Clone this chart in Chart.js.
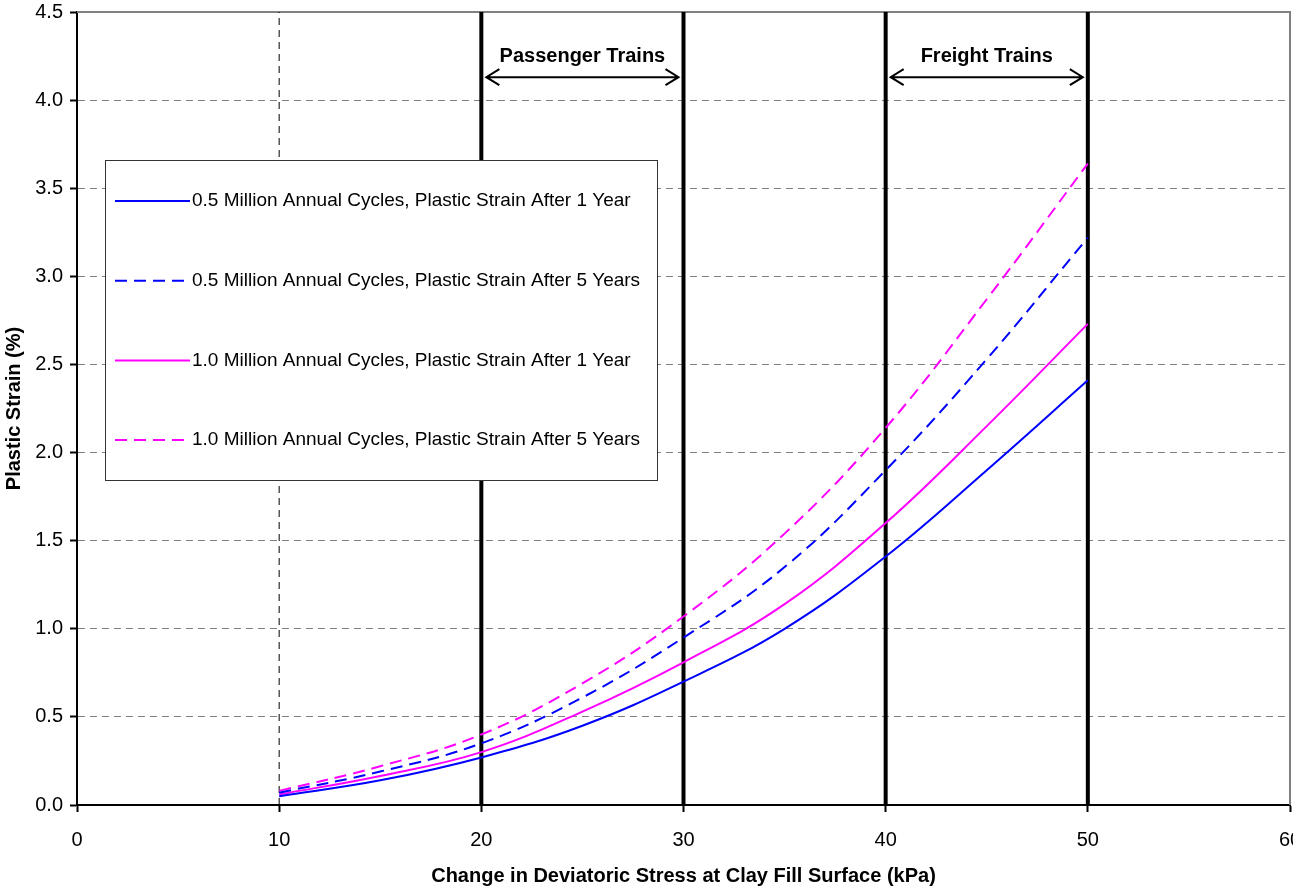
<!DOCTYPE html>
<html>
<head>
<meta charset="utf-8">
<script src="https://cdn.jsdelivr.net/npm/chart.js@4/dist/chart.umd.min.js"></script>
<style>
  html, body { margin: 0; padding: 0; background: #fff; overflow: hidden; }
  #wrap { width: 1320px; height: 888px; }
</style>
</head>
<body>
<div id="wrap"><canvas id="strainChart"></canvas></div>
<script>
// deviatoric stress (kPa) and plastic strain (%)
var stressKPa = [10, 15, 20, 25, 30, 35, 40, 45, 50];
var strainHalfM1yr = [0.05, 0.14, 0.27, 0.45, 0.70, 1.00, 1.41, 1.90, 2.41];
var strainHalfM5yr = [0.07, 0.19, 0.35, 0.61, 0.95, 1.35, 1.90, 2.53, 3.22];
var strainOneM1yr = [0.06, 0.165, 0.30, 0.53, 0.81, 1.14, 1.60, 2.15, 2.73];
var strainOneM5yr = [0.08, 0.22, 0.40, 0.69, 1.07, 1.54, 2.14, 2.87, 3.64];

var seriesLabels = [
  '0.5 Million Annual Cycles, Plastic Strain After 1 Year',
  '0.5 Million Annual Cycles, Plastic Strain After 5 Years',
  '1.0 Million Annual Cycles, Plastic Strain After 1 Year',
  '1.0 Million Annual Cycles, Plastic Strain After 5 Years'
];

// marker lines
var lowerLimit = 10;
var trainBounds = [20, 30, 40, 50];
var bandNames = ['Passenger Trains', 'Freight Trains'];
var bandFrom = [20, 40];
var bandTo = [30, 50];

var yMax = 4.5;
var FONT = 'Arial, "Liberation Sans", sans-serif';

function pts(xs, ys) {
  return xs.map(function (x, i) { return { x: x, y: ys[i] }; });
}
function vline(x) {
  return [{ x: x, y: 0 }, { x: x, y: yMax }];
}

var datasets = [
  { label: seriesLabels[0], data: pts(stressKPa, strainHalfM1yr), borderColor: '#0000ff', borderWidth: 2 },
  { label: seriesLabels[1], data: pts(stressKPa, strainHalfM5yr), borderColor: '#0000ff', borderWidth: 2, borderDash: [12, 7] },
  { label: seriesLabels[2], data: pts(stressKPa, strainOneM1yr), borderColor: '#ff00ff', borderWidth: 2 },
  { label: seriesLabels[3], data: pts(stressKPa, strainOneM5yr), borderColor: '#ff00ff', borderWidth: 2, borderDash: [12, 7] }
];
datasets.forEach(function (d) {
  d.tension = 0.4;
  d.pointRadius = 0;
  d.fill = false;
  d.inLegend = true;
});

datasets.push({ label: 'limit', data: vline(lowerLimit), borderColor: '#000', borderWidth: 1, borderDash: [7, 5], pointRadius: 0 });
trainBounds.forEach(function (b) {
  datasets.push({ label: 'bound', data: vline(b), borderColor: '#000', borderWidth: 4, pointRadius: 0 });
});

var framePlugin = {
  id: 'frame',
  beforeDatasetsDraw: function (chart) {
    var a = chart.chartArea, ctx = chart.ctx;
    ctx.save();
    ctx.strokeStyle = '#808080';
    ctx.lineWidth = 2;
    ctx.beginPath();
    ctx.moveTo(a.left, a.top);
    ctx.lineTo(a.right, a.top);
    ctx.lineTo(a.right, a.bottom);
    ctx.stroke();
    ctx.restore();
  }
};

var bandsPlugin = {
  id: 'bands',
  afterDatasetsDraw: function (chart) {
    var ctx = chart.ctx, xs = chart.scales.x, ys = chart.scales.y;
    var ay = ys.getPixelForValue(4.13);
    var ty = ys.getPixelForValue(4.25);
    ctx.save();
    ctx.strokeStyle = '#000';
    ctx.fillStyle = '#000';
    ctx.lineWidth = 2;
    ctx.font = 'bold 20px ' + FONT;
    ctx.textAlign = 'center';
    ctx.textBaseline = 'middle';
    for (var i = 0; i < bandNames.length; i++) {
      var x1 = xs.getPixelForValue(bandFrom[i]) + 5;
      var x2 = xs.getPixelForValue(bandTo[i]) - 5;
      ctx.beginPath();
      ctx.moveTo(x1, ay); ctx.lineTo(x2, ay);
      ctx.moveTo(x1 + 13, ay - 8); ctx.lineTo(x1, ay); ctx.lineTo(x1 + 13, ay + 8);
      ctx.moveTo(x2 - 13, ay - 8); ctx.lineTo(x2, ay); ctx.lineTo(x2 - 13, ay + 8);
      ctx.stroke();
      ctx.fillText(bandNames[i], (x1 + x2) / 2, ty);
    }
    ctx.restore();
  }
};

var legendPlugin = {
  id: 'boxLegend',
  afterDraw: function (chart) {
    var ctx = chart.ctx;
    var bx = 105, by = 160, bw = 552, bh = 320;
    ctx.save();
    ctx.fillStyle = '#fff';
    ctx.fillRect(bx, by, bw, bh);
    ctx.strokeStyle = '#333';
    ctx.lineWidth = 1;
    ctx.strokeRect(bx + 0.5, by + 0.5, bw, bh);
    ctx.font = '19px ' + FONT;
    ctx.textBaseline = 'middle';
    ctx.textAlign = 'left';
    var shown = chart.data.datasets.filter(function (d) { return d.inLegend; });
    shown.forEach(function (d, i) {
      var y = by + 41 + i * 79.7;
      ctx.strokeStyle = d.borderColor;
      ctx.lineWidth = 2;
      ctx.setLineDash(d.borderDash || []);
      ctx.beginPath();
      ctx.moveTo(115, y); ctx.lineTo(190, y);
      ctx.stroke();
      ctx.setLineDash([]);
      ctx.fillStyle = '#000';
      ctx.fillText(d.label, 192, y);
    });
    ctx.restore();
  }
};

new Chart(document.getElementById('strainChart'), {
  type: 'line',
  data: { datasets: datasets },
  options: {
    responsive: true,
    maintainAspectRatio: false,
    animation: false,
    layout: { padding: { top: 12, right: 30, left: 0, bottom: 0 } },
    plugins: { legend: { display: false }, tooltip: { enabled: false } },
    scales: {
      x: {
        type: 'linear',
        min: 0, max: 60,
        ticks: { stepSize: 10, color: '#000', font: { family: FONT, size: 20 }, padding: 16, maxRotation: 0 },
        grid: { drawOnChartArea: false, drawTicks: true, tickLength: 7, tickColor: '#000', tickWidth: 2 },
        border: { color: '#000', width: 2 },
        title: { display: true, text: 'Change in Deviatoric Stress at Clay Fill Surface (kPa)', color: '#000',
                 font: { family: FONT, size: 20, weight: 'bold' }, padding: { top: 12, bottom: 0 } },
        afterFit: function (s) { s.height = 83; }
      },
      y: {
        min: 0, max: yMax,
        ticks: { stepSize: 0.5, color: '#000', font: { family: FONT, size: 20 }, padding: 7,
                 callback: function (v) { return v.toFixed(1); } },
        grid: { color: '#808080', lineWidth: 1, drawTicks: true, tickLength: 7, tickColor: '#000', tickWidth: 2 },
        border: { color: '#000', width: 2, dash: [7, 5] },
        title: { display: true, text: 'Plastic Strain (%)', color: '#000',
                 font: { family: FONT, size: 20, weight: 'bold' }, padding: { top: 2, bottom: 2 } },
        afterFit: function (s) { s.width = 77; s.paddingTop = 0; s.paddingBottom = 0; }
      }
    }
  },
  plugins: [framePlugin, bandsPlugin, legendPlugin]
});
</script>
</body>
</html>
